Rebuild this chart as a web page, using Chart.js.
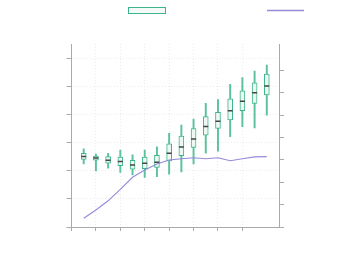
<!DOCTYPE html>
<html>
<head>
<meta charset="utf-8">
<script src="https://cdn.jsdelivr.net/npm/chart.js@4"></script>
<style>
  body { margin: 0; background: #fff; }
  #wrap { width: 354px; height: 275px; }
</style>
</head>
<body>
<div id="wrap"><canvas id="grafico"></canvas></div>
<script>
const posicoes = [1, 2, 3, 4, 5, 6, 7, 8, 9, 10, 11, 12, 13, 14, 15, 16];
const bigodeMin = [2.24, 1.99, 2.09, 1.94, 1.85, 1.76, 1.79, 1.88, 1.96, 2.24, 2.62, 2.69, 3.21, 3.56, 3.52, 3.97];
const quartil1 = [2.40, 2.37, 2.27, 2.18, 2.05, 2.07, 2.12, 2.35, 2.53, 2.83, 3.26, 3.50, 3.80, 4.13, 4.39, 4.69];
const mediana = [2.50, 2.45, 2.37, 2.33, 2.20, 2.26, 2.30, 2.62, 2.84, 3.13, 3.57, 3.76, 4.13, 4.47, 4.77, 5.01];
const quartil3 = [2.62, 2.52, 2.50, 2.48, 2.37, 2.48, 2.55, 2.95, 3.23, 3.50, 3.92, 4.07, 4.55, 4.84, 5.12, 5.43];
const bigodeMax = [2.78, 2.59, 2.62, 2.73, 2.56, 2.73, 2.85, 3.33, 3.62, 3.83, 4.39, 4.53, 5.07, 5.31, 5.54, 5.75];
const linha = [0.39, 0.76, 1.17, 1.68, 2.22, 2.54, 2.81, 2.99, 3.05, 3.09, 3.05, 3.09, 2.96, 3.05, 3.13, 3.14];

const verde = '#3db58a';
const verdeClaro = '#5cc29d';
const roxo = '#958bd8';

// legenda desenhada a mao (so os simbolos, sem texto)
const legendaPlugin = {
    id: 'legendaSimbolos',
    afterDraw(chart) {
        const ctx = chart.ctx;
        ctx.save();
        ctx.fillStyle = '#f3faf7';
        ctx.fillRect(128.5, 7.5, 37, 6);
        ctx.strokeStyle = verde;
        ctx.lineWidth = 1;
        ctx.strokeRect(128.5, 7.5, 37, 6);
        ctx.strokeStyle = roxo;
        ctx.lineWidth = 1.5;
        ctx.beginPath();
        ctx.moveTo(267, 10.5);
        ctx.lineTo(304, 10.5);
        ctx.stroke();
        ctx.restore();
    }
};

function soInteiros(limite) {
    return function (scale) {
        scale.ticks = scale.ticks.filter(t => Number.isInteger(t.value) && t.value <= limite);
    };
}

const ctx = document.getElementById('grafico').getContext('2d');

new Chart(ctx, {
    type: 'bar',
    data: {
        datasets: [
            {
                type: 'line',
                data: posicoes.map((x, i) => ({ x: x, y: linha[i] })),
                yAxisID: 'y2',
                borderColor: roxo,
                borderWidth: 1.1,
                pointRadius: 0,
                tension: 0,
                order: 0
            },
            {
                type: 'scatter',
                data: posicoes.map((x, i) => ({ x: x, y: mediana[i] })),
                yAxisID: 'y',
                pointStyle: 'line',
                pointRadius: 2.5,
                borderColor: '#444',
                borderWidth: 1.5,
                order: 1
            },
            {
                data: posicoes.map((x, i) => ({ x: x, y: [quartil1[i], quartil3[i]] })),
                yAxisID: 'y',
                backgroundColor: '#eef8f3',
                borderColor: verde,
                borderWidth: 1,
                borderSkipped: false,
                barThickness: 5,
                grouped: false,
                order: 2
            },
            {
                data: posicoes.map((x, i) => ({ x: x, y: [bigodeMin[i], bigodeMax[i]] })),
                yAxisID: 'y',
                backgroundColor: verdeClaro,
                borderWidth: 0,
                barThickness: 1.3,
                grouped: false,
                order: 3
            }
        ]
    },
    options: {
        responsive: true,
        maintainAspectRatio: false,
        animation: false,
        layout: { padding: { left: 66.5, right: 70, top: 44, bottom: 44 } },
        plugins: {
            legend: { display: false },
            tooltip: { enabled: false }
        },
        scales: {
            x: {
                type: 'linear',
                offset: false,
                min: 0,
                max: 17,
                afterBuildTicks: soInteiros(16),
                ticks: { display: false, stepSize: 2 },
                grid: {
                    offset: false,
                    color: '#ececec',
                    tickColor: '#aaa',
                    tickBorderDash: [],
                    tickLength: 4
                },
                border: { color: '#aaa', dash: [1, 2] }
            },
            y: {
                position: 'left',
                min: 0,
                max: 6.5,
                afterBuildTicks: soInteiros(6),
                ticks: { display: false, stepSize: 1 },
                grid: {
                    color: '#ececec',
                    tickColor: '#aaa',
                    tickBorderDash: [],
                    tickLength: 5
                },
                border: { color: '#aaa', dash: [1, 2] }
            },
            y2: {
                position: 'right',
                min: 0,
                max: 8.17,
                afterBuildTicks: soInteiros(8),
                ticks: { display: false, stepSize: 1 },
                grid: {
                    drawOnChartArea: false,
                    tickColor: '#aaa',
                    tickLength: 5
                },
                border: { color: '#aaa' }
            }
        }
    },
    plugins: [legendaPlugin]
});
</script>
</body>
</html>
